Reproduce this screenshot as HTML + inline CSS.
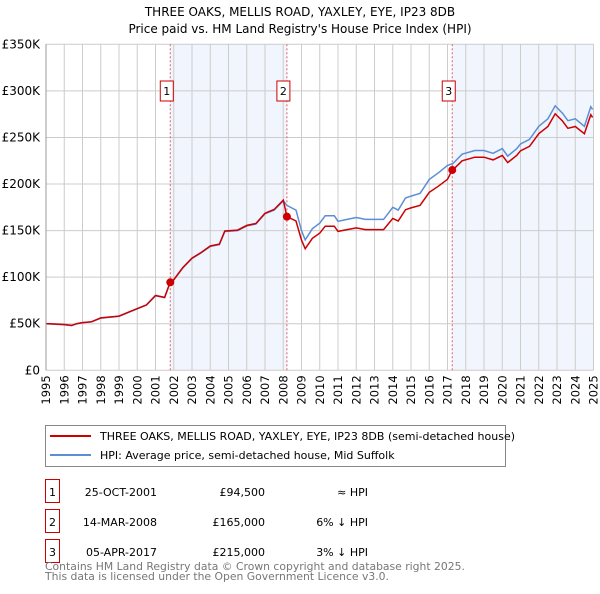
<!DOCTYPE html>
<html><head><meta charset="utf-8"><style>
body{margin:0;background:#fff;font-family:"DejaVu Sans","Liberation Sans",sans-serif;}
svg text{font-family:"DejaVu Sans","Liberation Sans",sans-serif;}
</style></head><body>
<svg id="c" width="600" height="590" xmlns="http://www.w3.org/2000/svg">
<text x="300" y="16" font-size="12" text-anchor="middle">THREE OAKS, MELLIS ROAD, YAXLEY, EYE, IP23 8DB</text>
<text x="300" y="33" font-size="12" text-anchor="middle">Price paid vs. HM Land Registry's House Price Index (HPI)</text>
<g id="plot"></g>
<g>
<rect x="45.5" y="425.5" width="460" height="41" fill="#fff" stroke="#888"/>
<line x1="50" y1="436" x2="91" y2="436" stroke="#cc0000" stroke-width="2"/>
<text x="100" y="440" font-size="11">THREE OAKS, MELLIS ROAD, YAXLEY, EYE, IP23 8DB (semi-detached house)</text>
<line x1="50" y1="455" x2="91" y2="455" stroke="#5b8fd4" stroke-width="2"/>
<text x="100" y="459" font-size="11">HPI: Average price, semi-detached house, Mid Suffolk</text>
</g>
<g id="table" font-size="11"></g>
<text x="45" y="570" font-size="10.8" fill="#777">Contains HM Land Registry data © Crown copyright and database right 2025.</text>
<text x="45" y="580" font-size="10.8" fill="#777">This data is licensed under the Open Government Licence v3.0.</text>
</svg>
<script>
const yTicks=[0,50,100,150,200,250,300,350];
const yTickLabels=["£0","£50K","£100K","£150K","£200K","£250K","£300K","£350K"];
const xYears=[1995,1996,1997,1998,1999,2000,2001,2002,2003,2004,2005,2006,2007,2008,2009,2010,2011,2012,2013,2014,2015,2016,2017,2018,2019,2020,2021,2022,2023,2024,2025];
const hpiT=[1995.0,1995.5,1996.0,1996.4,1996.7,1997.0,1997.5,1998.0,1998.5,1999.0,1999.5,2000.0,2000.5,2001.0,2001.5,2001.8,2002.0,2002.5,2003.0,2003.5,2004.0,2004.5,2004.8,2005.5,2006.0,2006.5,2007.0,2007.5,2008.0,2008.2,2008.7,2009.0,2009.2,2009.6,2010.0,2010.3,2010.8,2011.0,2011.5,2012.0,2012.5,2013.0,2013.5,2014.0,2014.3,2014.7,2015.0,2015.5,2016.0,2016.5,2017.0,2017.3,2017.8,2018.5,2019.0,2019.5,2020.0,2020.3,2020.8,2021.0,2021.5,2022.0,2022.5,2022.9,2023.3,2023.6,2024.0,2024.5,2024.85,2024.95];
const hpiV=[50,49.5,49,48,50,51,52,56,57,58,62,66,70,80,78,94,97,110,120,126,133,135,149,150,155,157,168,172,182,177,172,150,140,152,158,166,166,160,162,164,162,162,162,175,172,185,187,190,205,212,220,222,232,236,236,233,238,230,238,243,248,262,270,284,276,268,270,262,283,280];
const saleT=[2001.81,2008.2,2017.26];
const saleV=[94.5,165,215];
const saleLabels=["1","2","3"];
const saleDates=["25-OCT-2001","14-MAR-2008","05-APR-2017"];
const salePrices=["£94,500","£165,000","£215,000"];
const saleRel=["≈ HPI","6% ↓ HPI","3% ↓ HPI"];

const X0=46,X1=593.5,Y0=370.3,Y1=44.3;
const xs=t=>X0+(t-1995)/30*(X1-X0);
const ys=v=>Y0-v/350*(Y0-Y1);
const NS="http://www.w3.org/2000/svg";
const plot=document.getElementById('plot');
function mk(tag,attrs,parent){const e=document.createElementNS(NS,tag);for(const k in attrs)e.setAttribute(k,attrs[k]);(parent||plot).appendChild(e);return e;}
function hpiAt(t){for(let i=1;i<hpiT.length;i++){if(t<=hpiT[i]){const f=(t-hpiT[i-1])/(hpiT[i]-hpiT[i-1]);return hpiV[i-1]+f*(hpiV[i]-hpiV[i-1]);}}return hpiV[hpiV.length-1];}
let s1=mk('rect',{x:xs(saleT[0]),y:Y1,width:xs(saleT[1])-xs(saleT[0]),height:Y0-Y1,fill:'#eef3fc',opacity:0.8});

let s2=mk('rect',{x:xs(saleT[2]),y:Y1,width:X1-xs(saleT[2]),height:Y0-Y1,fill:'#eef3fc',opacity:0.8});

xYears.forEach(y=>{const l=mk('line',{x1:xs(y),x2:xs(y),y1:Y1,y2:Y0,stroke:'#ccc','stroke-width':1});

const t=mk('text',{x:0,y:0,'font-size':11.5,'text-anchor':'end',transform:`translate(${xs(y)+4},${Y0+5}) rotate(-90)`});t.textContent=y;
});
yTicks.forEach((v,i)=>{const l=mk('line',{x1:X0,x2:X1,y1:ys(v),y2:ys(v),stroke:'#ccc','stroke-width':1});

const t=mk('text',{x:X0-6,y:ys(v)+4,'font-size':12,'text-anchor':'end'});t.textContent=yTickLabels[i];
});
saleT.forEach((t,i)=>{const l=mk('line',{x1:xs(t),x2:xs(t),y1:Y1,y2:Y0,stroke:'#e06060','stroke-dasharray':'2,2','stroke-width':1});

const r=mk('rect',{x:xs(t)-10,y:81,width:13,height:20,fill:'#fff',stroke:'#cc0000'});

const tx=mk('text',{x:xs(t)-3.5,y:95,'font-size':11,'text-anchor':'middle'});tx.textContent=saleLabels[i];
});
let dH='';hpiT.forEach((t,i)=>{dH+=(i?'L':'M')+xs(t).toFixed(1)+','+ys(hpiV[i]).toFixed(1);});
const hp=mk('path',{d:dH,fill:'none',stroke:'#5b8fd4','stroke-width':1.5});

let dR='';let first=true;
const pts=[];hpiT.forEach(t=>pts.push(t));saleT.forEach(t=>pts.push(t));pts.sort((a,b)=>a-b);
pts.forEach(t=>{let r=1;for(let k=0;k<saleT.length;k++){if(t>=saleT[k])r=saleV[k]/hpiAt(saleT[k]);}
if(t<saleT[0])r=saleV[0]/hpiAt(saleT[0]);
const v=hpiAt(t)*r;dR+=(first?'M':'L')+xs(t).toFixed(1)+','+ys(v).toFixed(1);first=false;});
const rp=mk('path',{d:dR,fill:'none',stroke:'#cc0000','stroke-width':1.5});

saleT.forEach((t,i)=>{const c=mk('circle',{cx:xs(t),cy:ys(saleV[i]),r:4,fill:'#cc0000'});
});
mk('line',{x1:X0,x2:X0,y1:Y1,y2:Y0,stroke:'#999'});
const tb=document.getElementById('table');
saleT.forEach((t,i)=>{const y=492+i*30;
const r=mk('rect',{x:45.5,y:y-12.5,width:14,height:23,fill:'#fff',stroke:'#cc0000'},tb);

const a=mk('text',{x:52.5,y:y+4,'text-anchor':'middle'},tb);a.textContent=saleLabels[i];

const b=mk('text',{x:157,y:y+4,'text-anchor':'end'},tb);b.textContent=saleDates[i];

const c=mk('text',{x:265,y:y+4,'text-anchor':'end'},tb);c.textContent=salePrices[i];

const d=mk('text',{x:368,y:y+4,'text-anchor':'end'},tb);d.textContent=saleRel[i];
});
</script>
</body></html>
